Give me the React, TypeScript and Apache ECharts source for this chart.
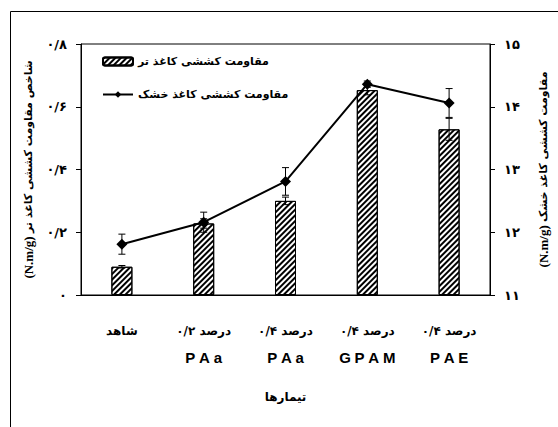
import React, { useEffect, useRef } from "react";
import * as echarts from "echarts";

const categoryTop = ["شاهد", "۰/۲ درصد", "۰/۴ درصد", "۰/۴ درصد", "۰/۴ درصد"];
const categoryBottom = ["", "PAa", "PAa", "GPAM", "PAE"];
const wetValues = [0.09, 0.228, 0.3, 0.653, 0.528];
const wetErrors = [0.004, 0.015, 0.012, 0.015, 0.035];
const dryValues = [11.81, 12.16, 12.81, 14.36, 14.06];
const dryErrors = [0.16, 0.16, 0.22, 0.05, 0.23];
const wetName = "مقاومت کششی کاغذ تر";
const dryName = "مقاومت کششی کاغذ خشک";
const leftAxisTitle = "شاخص مقاومت کششی کاغذ تر";
const rightAxisTitle = "مقاومت کششی کاغذ خشک";
const unitText = "(N.m/g)";
const xAxisTitle = "تیمارها";

const FA = "۰۱۲۳۴۵۶۷۸۹";
const toFa = (v: number) =>
  String(+v.toFixed(2)).replace(/\d/g, (d) => FA[+d]).replace(".", "/");

const PERSIAN = "DejaVu Sans";

const errorRender = (params: any, api: any) => {
  const x = api.value(0);
  const y = api.value(1);
  const e = api.value(2);
  const top = api.coord([x, y + e]);
  const bot = api.coord([x, y - e]);
  const hw = 3.5;
  const st = { stroke: "#000", lineWidth: 1 };
  return {
    type: "group",
    children: [
      { type: "line", shape: { x1: top[0], y1: top[1], x2: bot[0], y2: bot[1] }, style: st },
      { type: "line", shape: { x1: top[0] - hw, y1: top[1], x2: top[0] + hw, y2: top[1] }, style: st },
      { type: "line", shape: { x1: bot[0] - hw, y1: bot[1], x2: bot[0] + hw, y2: bot[1] }, style: st },
    ],
  };
};

export default function App() {
  const ref = useRef<HTMLDivElement>(null);
  useEffect(() => {
    document.body.style.margin = "0";
    const chart = echarts.init(ref.current!, null, { renderer: "svg" });
    const cats = categoryTop.map((t, i) => `${t}#${categoryBottom[i]}`);
    chart.setOption({
      animation: false,
      backgroundColor: "#fff",
      graphic: [
        {
          type: "polyline",
          shape: { points: [[10.5, 700], [10.5, 11.5], [800, 11.5]] },
          style: { fill: "none", stroke: "#000", lineWidth: 1 },
          z: -1,
        },
      ],
      legend: {
        orient: "vertical",
        left: 97,
        top: 51,
        itemWidth: 30,
        itemHeight: 8,
        itemGap: 22,
        textStyle: { fontFamily: PERSIAN, fontWeight: "bold", fontSize: 11, color: "#000" },
        data: [wetName, dryName],
      },
      grid: {
        left: 81,
        right: 58,
        top: 44,
        bottom: 132,
        show: true,
        borderColor: "#000",
        borderWidth: 1,
        backgroundColor: "transparent",
      },
      xAxis: {
        type: "category",
        data: cats,
        axisLine: { lineStyle: { color: "#000", width: 1 } },
        axisTick: { show: false },
        name: xAxisTitle,
        nameLocation: "middle",
        nameGap: 96,
        nameTextStyle: { fontFamily: PERSIAN, fontWeight: "bold", fontSize: 12, color: "#000" },
        axisLabel: {
          margin: 22,
          interval: 0,
          formatter: (_v: string, i: number) =>
            categoryBottom[i]
              ? `{a|${categoryTop[i]}}\n{b|${categoryBottom[i].split("").join("\u2005")}}`
              : `{a|${categoryTop[i]}}`,
          rich: {
            a: { fontFamily: PERSIAN, fontWeight: "bold", fontSize: 12, color: "#000", lineHeight: 27 },
            b: { fontFamily: "Liberation Sans", fontWeight: "bold", fontSize: 15, color: "#000", lineHeight: 27 },
          },
        },
      },
      yAxis: [
        {
          type: "value",
          min: 0,
          max: 0.8,
          interval: 0.2,
          splitLine: { show: false },
          axisLine: { show: true, lineStyle: { color: "#000", width: 1 } },
          axisTick: { show: true, inside: false, length: 5, lineStyle: { color: "#000" } },
          axisLabel: {
            margin: 14,
            formatter: (v: number) => toFa(v),
            fontFamily: PERSIAN,
            fontWeight: "bold",
            fontSize: 13,
            color: "#000",
          },
          name: `{u|${unitText}} {p|${leftAxisTitle}}`,
          nameLocation: "middle",
          nameRotate: 90,
          nameGap: 43,
          nameTextStyle: {
            rich: {
              u: { fontFamily: "Liberation Serif", fontWeight: "bold", fontSize: 13, color: "#000" },
              p: { fontFamily: PERSIAN, fontWeight: "bold", fontSize: 11, color: "#000" },
            },
          },
        },
        {
          type: "value",
          min: 11,
          max: 15,
          interval: 1,
          splitLine: { show: false },
          axisLine: { show: true, lineStyle: { color: "#000", width: 1 } },
          axisTick: { show: true, inside: false, length: 5, lineStyle: { color: "#000" } },
          axisLabel: {
            margin: 14,
            formatter: (v: number) => toFa(v),
            fontFamily: PERSIAN,
            fontWeight: "bold",
            fontSize: 13,
            color: "#000",
          },
          name: `{u|${unitText}} {p|${rightAxisTitle}}`,
          nameLocation: "middle",
          nameRotate: 90,
          nameGap: 47,
          nameTextStyle: {
            rich: {
              u: { fontFamily: "Liberation Serif", fontWeight: "bold", fontSize: 13, color: "#000" },
              p: { fontFamily: PERSIAN, fontWeight: "bold", fontSize: 11, color: "#000" },
            },
          },
        },
      ],
      series: [
        {
          name: wetName,
          type: "bar",
          yAxisIndex: 0,
          barWidth: 21,
          data: wetValues,
          z: 2,
          itemStyle: {
            color: "#fff",
            borderColor: "#000",
            borderWidth: 1,
            decal: {
              symbol: "rect",
              symbolSize: 1,
              dashArrayX: [1, 0],
              dashArrayY: [1.2, 1.9],
              rotation: -Math.PI / 4,
              color: "#000",
              backgroundColor: "#fff",
            },
          },
        },
        {
          type: "custom",
          yAxisIndex: 0,
          z: 3,
          renderItem: errorRender,
          data: wetValues.map((v, i) => [i, v, wetErrors[i]]),
          silent: true,
        },
        {
          type: "custom",
          yAxisIndex: 1,
          z: 4,
          renderItem: errorRender,
          data: dryValues.map((v, i) => [i, v, dryErrors[i]]),
          silent: true,
        },
        {
          name: dryName,
          type: "line",
          yAxisIndex: 1,
          data: dryValues,
          z: 5,
          symbol: "diamond",
          symbolSize: 11,
          lineStyle: { color: "#000", width: 2 },
          itemStyle: { color: "#000" },
        },
      ],
    });
    return () => chart.dispose();
  }, []);
  return <div ref={ref} style={{ width: 558, height: 427 }} />;
}
